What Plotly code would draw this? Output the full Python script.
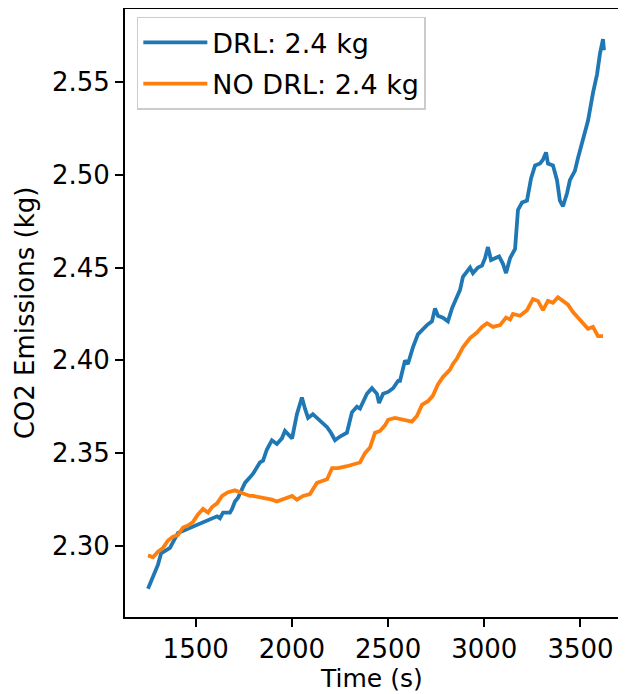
import plotly.graph_objects as go

# DRL series (time in s, CO2 in kg)
drl_t = [1252, 1288, 1304, 1320, 1351, 1366, 1392, 1408, 1611, 1626, 1642, 1678, 1689, 1704, 1720, 1741, 1756, 1782,
         1798, 1834, 1850, 1870, 1896, 1922, 1948, 1964, 1980, 2001, 2026, 2052, 2068, 2084, 2109, 2130, 2157, 2183,
         2203, 2224, 2250, 2286, 2312, 2338, 2354, 2390, 2416, 2442, 2453, 2474, 2500, 2526, 2552, 2562, 2588, 2603,
         2629, 2655, 2702, 2728, 2744, 2759, 2785, 2811, 2832, 2848, 2874, 2889, 2926, 2941, 2967, 2988, 3004, 3019,
         3035, 3056, 3077, 3097, 3113, 3134, 3160, 3175, 3196, 3222, 3243, 3264, 3290, 3305, 3321, 3331, 3357, 3378,
         3393, 3409, 3430, 3445, 3471, 3487, 3513, 3539, 3565, 3586, 3601, 3617, 3622]
drl_v = [2.277, 2.287, 2.290, 2.296, 2.298, 2.299, 2.304, 2.307, 2.316, 2.315, 2.318, 2.318, 2.320, 2.324, 2.326, 2.331,
         2.334, 2.337, 2.339, 2.345, 2.346, 2.352, 2.357, 2.355, 2.358, 2.362, 2.360, 2.358, 2.371, 2.380, 2.374, 2.369,
         2.371, 2.369, 2.366, 2.364, 2.361, 2.357, 2.359, 2.361, 2.372, 2.375, 2.374, 2.382, 2.385, 2.382, 2.377, 2.382,
         2.383, 2.385, 2.389, 2.389, 2.400, 2.398, 2.407, 2.414, 2.419, 2.421, 2.428, 2.424, 2.423, 2.421, 2.428, 2.432,
         2.438, 2.445, 2.450, 2.447, 2.450, 2.451, 2.455, 2.461, 2.454, 2.455, 2.456, 2.452, 2.447, 2.455, 2.460, 2.481,
         2.485, 2.486, 2.498, 2.505, 2.506, 2.508, 2.512, 2.506, 2.505, 2.497, 2.486, 2.483, 2.490, 2.497, 2.502, 2.509,
         2.520, 2.529, 2.544, 2.554, 2.565, 2.573, 2.567]

# NO DRL series
nodrl_t = [1252, 1278, 1304, 1330, 1356, 1382, 1408, 1434, 1460, 1486, 1512, 1538, 1564, 1585, 1611, 1637, 1668, 1704,
           1730, 1756, 1782, 1798, 1850, 1896, 1922, 1974, 2001, 2026, 2058, 2094, 2130, 2157, 2183, 2209, 2240, 2286,
           2317, 2354, 2380, 2406, 2432, 2458, 2484, 2500, 2536, 2578, 2624, 2650, 2676, 2707, 2733, 2759, 2785, 2822,
           2837, 2858, 2874, 2889, 2926, 2962, 2988, 3014, 3045, 3082, 3113, 3134, 3149, 3186, 3222, 3253, 3279, 3305,
           3331, 3357, 3383, 3409, 3435, 3461, 3487, 3513, 3539, 3565, 3591, 3617]
nodrl_v = [2.295, 2.294, 2.297, 2.299, 2.303, 2.305, 2.306, 2.310, 2.311, 2.313, 2.317, 2.320, 2.318, 2.321, 2.323,
           2.327, 2.329, 2.330, 2.329, 2.328, 2.327, 2.327, 2.326, 2.325, 2.324, 2.326, 2.327, 2.325, 2.327, 2.328,
           2.334, 2.335, 2.336, 2.342, 2.342, 2.343, 2.344, 2.345, 2.350, 2.353, 2.361, 2.362, 2.365, 2.368, 2.369,
           2.368, 2.367, 2.370, 2.376, 2.378, 2.381, 2.387, 2.391, 2.395, 2.398, 2.401, 2.404, 2.407, 2.412, 2.415,
           2.418, 2.420, 2.418, 2.419, 2.423, 2.422, 2.425, 2.424, 2.427, 2.433, 2.432, 2.427, 2.432, 2.431, 2.434,
           2.432, 2.430, 2.426, 2.423, 2.420, 2.417, 2.418, 2.413, 2.413]

series_names = ["DRL: 2.4 kg", "NO DRL: 2.4 kg"]
colors = ["#1f77b4", "#ff7f0e"]
x_ticks = [1500, 2000, 2500, 3000, 3500]
y_ticks = [2.30, 2.35, 2.40, 2.45, 2.50, 2.55]
x_title = "Time (s)"
y_title = "CO2 Emissions (kg)"

fig = go.Figure()
fig.add_trace(go.Scatter(x=drl_t, y=drl_v, mode="lines", name=series_names[0], legendgroup="a",
                         line=dict(color=colors[0], width=3.8)))
fig.add_trace(go.Scatter(x=nodrl_t, y=nodrl_v, mode="lines", name=series_names[1], legendgroup="b",
                         line=dict(color=colors[1], width=3.8)))

font = dict(family="DejaVu Sans", size=26, color="black")
fig.update_layout(
    width=610, height=686,
    margin=dict(l=117, r=0, t=1, b=77),
    paper_bgcolor="white", plot_bgcolor="white",
    font=font,
    showlegend=True,
    legend=dict(x=0.024, y=0.987, xanchor="left", yanchor="top",
                bgcolor="rgba(255,255,255,0.8)", bordercolor="#cccccc", borderwidth=1.5,
                font=dict(family="DejaVu Sans", size=27, color="black"),
                traceorder="grouped", tracegroupgap=3, itemwidth=64),
    xaxis=dict(range=[1132.5, 3695], tickvals=x_ticks, ticktext=[str(v) for v in x_ticks],
               showgrid=False, zeroline=False, showline=True, mirror=True,
               linecolor="black", linewidth=2, ticks="outside", ticklen=8, tickwidth=2,
               tickcolor="black", automargin=False, ticklabelstandoff=0),
    yaxis=dict(range=[2.2618, 2.5892], tickvals=y_ticks, ticktext=[f"{v:.2f}" for v in y_ticks],
               showgrid=False, zeroline=False, showline=True, mirror=True,
               linecolor="black", linewidth=2, ticks="outside", ticklen=8, tickwidth=2,
               tickcolor="black", automargin=False,
               title=dict(text=y_title, font=font, standoff=10)),
    annotations=[dict(text=x_title, xref="paper", yref="paper", x=0.5, y=0,
                      xanchor="center", yanchor="middle", yshift=-61, showarrow=False,
                      font=dict(family="DejaVu Sans", size=25, color="black"))],
)

fig.write_html("out.html")
